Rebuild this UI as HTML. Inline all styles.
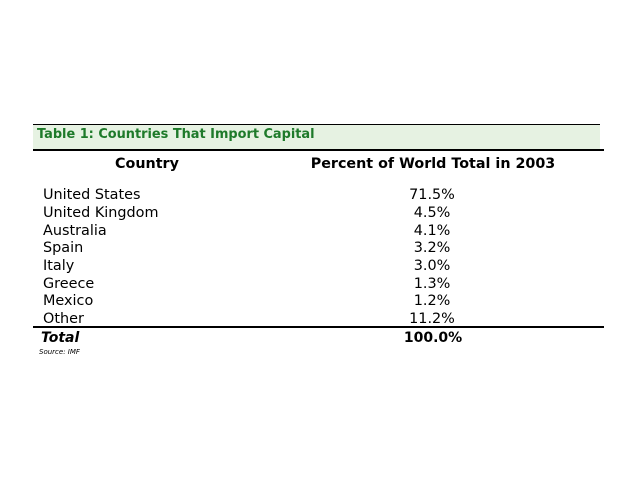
<!DOCTYPE html>
<html><head><style>
body{margin:0;width:640px;height:480px;background:#fff;position:relative;overflow:hidden;font-family:"DejaVu Sans","Liberation Sans",sans-serif;color:#000}
.a{position:absolute;white-space:nowrap;line-height:1}
.c{transform:translateX(-50%)}
.r{font-size:14.4px;left:43px}
.p{font-size:14.4px;left:432px}
</style></head><body>
<div class="a" style="left:33px;top:124px;width:567px;height:1px;background:#000"></div>
<div class="a" style="left:33px;top:125px;width:567px;height:24px;background:#e6f2e2"></div>
<div class="a" style="left:37px;top:129px;font-size:12.9px;font-weight:bold;color:#1e7a2a">Table 1: Countries That Import Capital</div>
<div class="a" style="left:33px;top:149px;width:571px;height:2px;background:#000"></div>
<div class="a c" style="left:147px;top:157px;font-size:14.3px;font-weight:bold">Country</div>
<div class="a c" style="left:433px;top:157px;font-size:14.3px;font-weight:bold">Percent of World Total in 2003</div>
<div class="a r" style="top:188px">United States</div><div class="a p c" style="top:188px">71.5%</div>
<div class="a r" style="top:206px">United Kingdom</div><div class="a p c" style="top:206px">4.5%</div>
<div class="a r" style="top:224px">Australia</div><div class="a p c" style="top:224px">4.1%</div>
<div class="a r" style="top:241px">Spain</div><div class="a p c" style="top:241px">3.2%</div>
<div class="a r" style="top:259px">Italy</div><div class="a p c" style="top:259px">3.0%</div>
<div class="a r" style="top:277px">Greece</div><div class="a p c" style="top:277px">1.3%</div>
<div class="a r" style="top:294px">Mexico</div><div class="a p c" style="top:294px">1.2%</div>
<div class="a r" style="top:312px">Other</div><div class="a p c" style="top:312px">11.2%</div>
<div class="a" style="left:33px;top:326px;width:571px;height:2px;background:#000"></div>
<div class="a" style="left:41px;top:331px;font-size:14px;font-weight:bold;font-style:italic">Total</div>
<div class="a c" style="left:433px;top:331px;font-size:14px;font-weight:bold">100.0%</div>
<div class="a" style="left:39px;top:349px;font-size:7px;font-style:italic">Source: IMF</div>
</body></html>
